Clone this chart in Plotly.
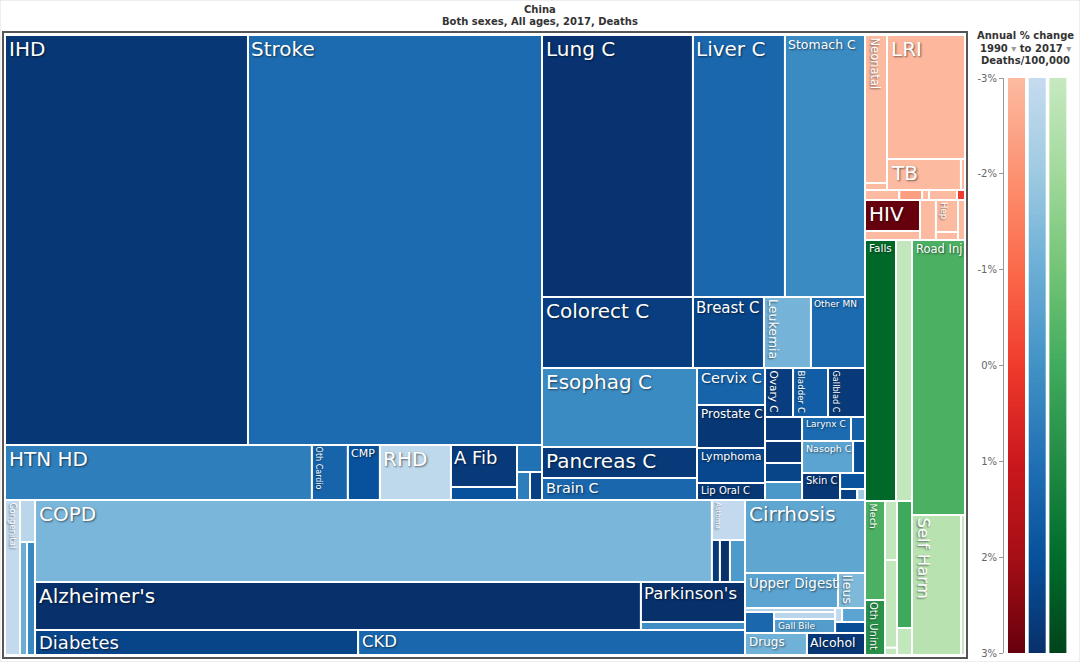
import plotly.graph_objects as go

# ------------------------------------------------------------------ data
# Deaths (thousands) and annual % change 1990-2017 in deaths/100,000
CVD_CAUSES = ["IHD", "Stroke", "HTN HD", "Oth Cardio", "CMP", "RHD", "A Fib", "", "", "", ""]
CVD_DEATHS = [1748, 2115, 296, 34.7, 30.9, 68.5, 48.6, 15.1, 11.8, 6.4, 5.9]
CVD_CHANGE = [2.8, 1.2, 0.6, 1.4, 2.0, -2.8, 2.7, 2.0, 1.0, 0.6, 2.5]

NEO_CAUSES = ["Lung C", "Liver C", "Stomach C", "Colorect C", "Breast C", "Leukemia", "Other MN",
              "Esophag C", "Pancreas C", "Brain C", "Cervix C", "Prostate C", "Lymphoma", "Lip Oral C",
              "Ovary C", "Bladder C", "Gallblad C", "", "", "", "", "Larynx C", "", "Nasoph C", "",
              "Skin C", "", "", ""]
NEO_DEATHS = [694, 423, 368, 188, 88.4, 58.5, 67.3, 214.8, 84.3, 59.8, 44.1, 51.3, 41.8, 20.3,
              24.1, 30.1, 31.8, 15.6, 14.3, 12.3, 11.7, 20.6, 5.9, 28.6, 6.7, 18.0, 7.0, 3.3, 1.5]
NEO_CHANGE = [2.9, 1.3, 0.2, 2.6, 2.4, -1.2, 1.2, 0.2, 2.7, 1.3, 1.4, 2.8, 2.3, 2.8,
              2.6, 1.6, 2.7, 2.7, 2.8, 2.4, -0.2, 1.2, 1.5, -0.6, 2.1, 2.8, 2.0, 2.5, -2.0]

OTHER_CAUSES = ["Congenital", "", "", ""]
OTHER_DEATHS = [40.8, 11.1, 13.9, 15.9]
OTHER_CHANGE = [-2.9, -2.7, -1.0, 0.3]

CHRONIC_CAUSES = ["COPD", "Asthma", "", "", "", "Alzheimer's", "Parkinson's", "", "Diabetes", "CKD"]
CHRONIC_DEATHS = [974, 23.2, 5.9, 7.4, 11.1, 510, 73.0, 14.6, 141.7, 169.7]
CHRONIC_CHANGE = [-1.3, -2.9, 2.7, 3.0, -0.3, 3.0, 3.0, 0.1, 2.4, 1.3]

DIGEST_CAUSES = ["Cirrhosis", "Upper Digest", "Ileus", "", "", "", "Gall Bile", "", "", "", "Drugs", "Alcohol"]
DIGEST_DEATHS = [153.7, 57.1, 16.6, 6.3, 10.7, 7.5, 15.0, 1.7, 5.6, 5.8, 23.9, 22.4]
DIGEST_CHANGE = [-0.7, -0.6, -1.4, -2.5, 1.3, -2.7, -0.4, -2.9, -0.6, 2.1, -1.1, 2.8]

COMM_CAUSES = ["Neonatal", "", "LRI", "TB", "", "", "", "", "", "", "HIV", "", "", "Hep", "", ""]
COMM_DEATHS = [57.1, 2.7, 169.7, 40.2, 2.2, 6.0, 4.0, 1.2, 4.9, 1.4, 29.9, 8.7, 11.2, 12.4, 3.1, 4.9]
COMM_CHANGE = [-3.0, -3.0, -2.9, -3.0, -3.0, -3.0, -2.3, -3.0, -3.0, 0.0, 3.0, -3.0, -3.0, -3.0, -3.0, -3.0]

INJ_CAUSES = ["Falls", "", "Mech", "Oth Unint", "", "", "", "", "", "Road Inj", "Self Harm", ""]
INJ_DEATHS = [142.0, 73.3, 34.7, 19.3, 12.4, 18.5, 1.5, 33.4, 7.1, 255.7, 120.4, 9.8]
INJ_CHANGE = [2.1, -2.9, -0.2, 0.8, -2.9, -2.9, -2.9, 0.1, -2.9, -0.2, -2.6, -2.9]

SCALE_TICKS = [-3, -2, -1, 0, 1, 2, 3]
SCALE_TICKTEXT = ["-3%", "-2%", "-1%", "0%", "1%", "2%", "3%"]

# ------------------------------------------------------------------ styling
BLUES = ["#c6dbef", "#9ecae1", "#6baed6", "#4292c6", "#2171b5", "#08519c", "#08306b"]
REDS = ["#fcbba1", "#fc9272", "#fb6a4a", "#ef3b2c", "#cb181d", "#a50f15", "#67000d"]
GREENS = ["#c7e9c0", "#a1d99b", "#74c476", "#41ab5d", "#238b45", "#006d2c", "#00441b"]

# label font size and orientation (True = rotated)
LABEL_STYLE = {
    "IHD": (20, False), "Stroke": (20, False), "HTN HD": (20, False), "Oth Cardio": (8, True),
    "CMP": (11, False), "RHD": (20, False), "A Fib": (18, False),
    "Lung C": (20, False), "Liver C": (20, False), "Stomach C": (12.5, False), "Colorect C": (20, False),
    "Breast C": (15, False), "Leukemia": (12.5, True), "Other MN": (9, False), "Esophag C": (20, False),
    "Pancreas C": (20, False), "Brain C": (14.5, False), "Cervix C": (14.5, False), "Prostate C": (12, False),
    "Lymphoma": (11, False), "Lip Oral C": (10, False), "Ovary C": (10.5, True), "Bladder C": (8.7, True),
    "Gallblad C": (8.2, True), "Larynx C": (9, False), "Nasoph C": (9.5, False), "Skin C": (10, False),
    "Congenital": (8.5, True), "COPD": (20, False), "Asthma": (7, True), "Alzheimer's": (20, False),
    "Parkinson's": (16.5, False), "Diabetes": (18, False), "CKD": (16.5, False),
    "Cirrhosis": (20, False), "Upper Digest": (13.5, False), "Ileus": (12.5, True), "Gall Bile": (9, False),
    "Drugs": (12, False), "Alcohol": (12.5, False),
    "Neonatal": (11.5, True), "LRI": (20, False), "TB": (20, False), "HIV": (20, False), "Hep": (8.5, True),
    "Falls": (10.5, False), "Mech": (9.5, True), "Oth Unint": (10, True), "Road Inj": (11.5, False),
    "Self Harm": (16.5, True),
}

# ------------------------------------------------------------------ arrangement (slice / dice)
L = None
CVD_TREE = ("v", [("h", [L, L]), ("h", [L, L, L, L, ("v", [L, L]), ("v", [L, ("h", [L, L])])])])
NEO_TREE = ("v", [("h", [L, L, L]), ("h", [L, L, L, L]),
                  ("h", [("v", [L, L, L]), ("v", [L, L, L, L]),
                         ("v", [("h", [L, L, L]),
                                ("h", [("v", [L, L, L, L]),
                                       ("v", [("h", [L, L]), ("h", [L, L]),
                                              ("h", [L, ("v", [L, ("h", [L, L])])])])])])])])
OTHER_TREE = ("h", [L, ("v", [L, ("h", [L, L])])])
CHRONIC_TREE = ("v", [("h", [L, ("v", [L, ("h", [L, L, L])])]), ("h", [L, ("v", [L, L])]), ("h", [L, L])])
DIGEST_TREE = ("v", [L, ("h", [L, L]),
                     ("h", [("v", [L, ("h", [L, ("v", [L, L])])]), ("v", [("h", [L, L]), L])]),
                     ("h", [L, L])])
COMM_TREE = ("v", [("h", [("v", [L, L]), ("v", [L, ("h", [L, L])])]), ("h", [L, L, L, L, L]),
                   ("h", [("v", [L, L]), L, ("v", [L, L]), L])])
INJ_TREE = ("h", [("v", [("h", [L, L]), ("h", [("v", [L, L]), ("v", [L, L, L]), ("v", [L, L])])]),
                  ("v", [L, ("h", [L, L])])])

GROUPS = [
    ("cvd", CVD_CAUSES, CVD_DEATHS, CVD_CHANGE, CVD_TREE, BLUES),
    ("neo", NEO_CAUSES, NEO_DEATHS, NEO_CHANGE, NEO_TREE, BLUES),
    ("other", OTHER_CAUSES, OTHER_DEATHS, OTHER_CHANGE, OTHER_TREE, BLUES),
    ("chronic", CHRONIC_CAUSES, CHRONIC_DEATHS, CHRONIC_CHANGE, CHRONIC_TREE, BLUES),
    ("digest", DIGEST_CAUSES, DIGEST_DEATHS, DIGEST_CHANGE, DIGEST_TREE, BLUES),
    ("comm", COMM_CAUSES, COMM_DEATHS, COMM_CHANGE, COMM_TREE, REDS),
    ("inj", INJ_CAUSES, INJ_DEATHS, INJ_CHANGE, INJ_TREE, GREENS),
]

NAMES, VALS, CHG, PAL = [], [], [], []


def index_tree(node, counter):
    if node is None:
        i = counter[0]
        counter[0] += 1
        return i
    return (node[0], [index_tree(k, counter) for k in node[1]])


SUB = {}
for key, causes, deaths, change, tree, pal in GROUPS:
    start = len(NAMES)
    NAMES += causes
    VALS += deaths
    CHG += change
    PAL += [pal] * len(causes)
    cnt = [start]
    SUB[key] = index_tree(tree, cnt)
    assert cnt[0] == len(NAMES), key

ROOT = ("h", [("v", [("h", [SUB["cvd"], SUB["neo"]]),
                     ("h", [SUB["other"], SUB["chronic"], SUB["digest"]])]),
              ("v", [SUB["comm"], SUB["inj"]])])


def total(node):
    if isinstance(node, int):
        return VALS[node]
    return sum(total(k) for k in node[1])


RECTS = {}


def place(node, x0, y0, x1, y1):
    if isinstance(node, int):
        RECTS[node] = (x0, y0, x1, y1)
        return
    orient, kids = node
    s = total(node)
    pos = x0 if orient == "h" else y0
    for k in kids:
        f = total(k) / s
        if orient == "h":
            w = (x1 - x0) * f
            place(k, pos, y0, pos + w, y1)
            pos += w
        else:
            h = (y1 - y0) * f
            place(k, x0, pos, x1, pos + h)
            pos += h


# treemap frame in page pixels
FX0, FY0, FX1, FY1 = 5, 35, 965, 655
place(ROOT, FX0, FY0, FX1, FY1)


def hex2rgb(h):
    return tuple(int(h[i:i + 2], 16) for i in (1, 3, 5))


def colour(pal, v):
    v = max(-3.0, min(3.0, v))
    t = v + 3.0
    i = min(int(t), 5)
    f = t - i
    a, b = hex2rgb(pal[i]), hex2rgb(pal[i + 1])
    c = [round(a[j] + (b[j] - a[j]) * f) for j in range(3)]
    return "rgb(%d,%d,%d)" % tuple(c)


fig = go.Figure()
annotations = []
for i in range(len(NAMES)):
    x0, y0, x1, y1 = RECTS[i]
    fig.add_trace(go.Scatter(
        x=[x0, x1, x1, x0, x0], y=[y0, y0, y1, y1, y0],
        mode="lines", fill="toself", fillcolor=colour(PAL[i], CHG[i]),
        line=dict(color="white", width=2), hoveron="fills",
        name=NAMES[i] or "other", text="%s: %.1fk deaths, %+.1f%%" % (NAMES[i], VALS[i], CHG[i]),
        hoverinfo="text", showlegend=False, xaxis="x", yaxis="y"))
    if NAMES[i] in LABEL_STYLE:
        size, rot = LABEL_STYLE[NAMES[i]]
        annotations.append(dict(
            x=x0 + (1.5 if rot else 2.5), y=y0 + 1, xref="x", yref="y",
            text=NAMES[i], showarrow=False, xanchor="left", yanchor="top",
            textangle=90 if rot else 0, borderpad=0,
            font=dict(family="DejaVu Sans", size=size, color="white",
                      shadow="1px 1px 2px rgba(0,0,0,0.55)")))

# colour-scale legend (three gradient bars)
levels = [-3 + 6 * k / 120 for k in range(121)]
for j, pal in enumerate([REDS, BLUES, GREENS]):
    fig.add_trace(go.Heatmap(
        z=[[v] for v in levels], x=[j], y=levels,
        colorscale=[[k / 6, c] for k, c in enumerate(pal)], zmin=-3, zmax=3,
        showscale=False, xgap=4, hoverinfo="skip", xaxis="x2", yaxis="y2"))

W, H = 1080, 662
title_font = dict(family="DejaVu Sans", size=10, color="#333")


def page_text(x, y, text):
    return dict(x=x / W, y=1 - y / H, xref="paper", yref="paper", text=text, showarrow=False,
                font=title_font, xanchor="center", yanchor="middle")


annotations += [
    page_text(540, 10, "<b>China</b>"),
    page_text(540, 21, "<b>Both sexes, All ages, 2017, Deaths</b>"),
    page_text(1025, 36, "<b>Annual % change</b>"),
    page_text(1025, 48, "<b>1990 </b><span style='color:#999'>▾</span><b> to 2017 </b>"
                        "<span style='color:#999'>▾</span>"),
    page_text(1025, 61, "<b>Deaths/100,000</b>"),
]

shapes = [
    dict(type="rect", xref="x", yref="y", x0=3, y0=32, x1=967, y1=658,
         line=dict(color="#555", width=2), layer="above"),
    dict(type="rect", xref="paper", yref="paper", x0=0, y0=0, x1=1, y1=1,
         line=dict(color="#ddd", width=1)),
]

fig.update_layout(
    width=W, height=H, margin=dict(l=0, r=0, t=0, b=0, pad=0, autoexpand=False),
    paper_bgcolor="white", plot_bgcolor="white",
    xaxis=dict(domain=[0, 1], range=[0, W], visible=False, fixedrange=True, automargin=False),
    yaxis=dict(domain=[0, 1], range=[H, 0], visible=False, fixedrange=True, automargin=False),
    xaxis2=dict(domain=[1006 / W, 1068 / W], range=[-0.5, 2.5], visible=False, anchor="y2",
                automargin=False),
    yaxis2=dict(domain=[1 - 653 / H, 1 - 78 / H], range=[3, -3], anchor="free", position=1003 / W,
                side="left", showline=True, linecolor="#999", linewidth=1, ticks="outside", ticklen=4,
                tickcolor="#999", tickvals=SCALE_TICKS, ticktext=SCALE_TICKTEXT, showgrid=False,
                zeroline=False, automargin=False,
                tickfont=dict(family="DejaVu Sans", size=10, color="#666")),
    annotations=annotations, shapes=shapes, showlegend=False,
    hovermode="closest",
)

fig.write_html("out.html")
